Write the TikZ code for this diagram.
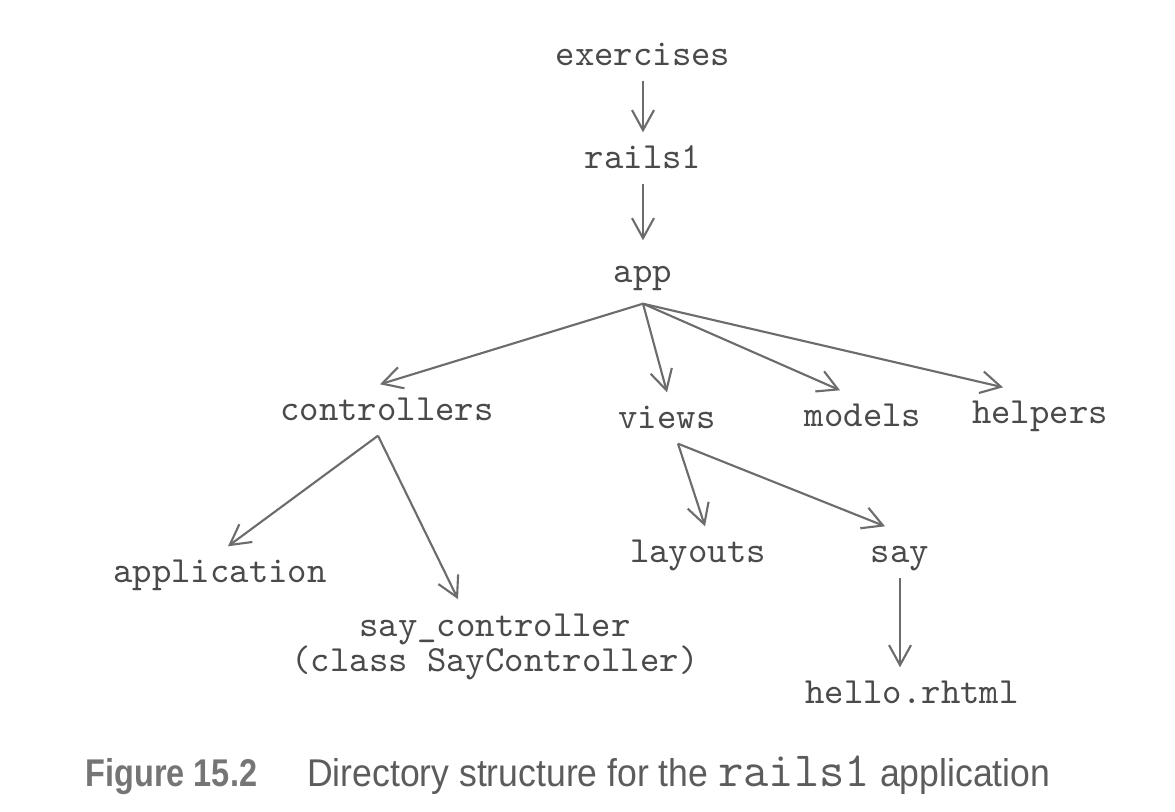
\documentclass[tikz,border=0pt]{standalone}
\usepackage{fontspec}
\setmainfont{Liberation Sans}
\newfontfamily\capfont[FakeStretch=0.92]{Liberation Sans}
\newfontfamily\capboldfont[FakeStretch=0.84]{Liberation Sans}
\usetikzlibrary{arrows.meta}
\definecolor{inkgray}{HTML}{4A4A4A}
\definecolor{linegray}{HTML}{6C6C6C}
\definecolor{capgray}{HTML}{5C5C5C}

\begin{document}
\begin{tikzpicture}[
  dir/.style={font=\fontsize{10.5}{12}\selectfont\ttfamily, text=inkgray, inner sep=0pt,
              minimum height=0.5cm, text height=1.5ex, text depth=.35ex},
  dirtwo/.style={font=\fontsize{10.5}{10}\selectfont\ttfamily, text=inkgray, inner xsep=0pt,
                 inner ysep=4pt, align=center},
  arr/.style={-{Straight Barb[length=2mm, width=2.2mm]}, line width=0.6pt, linegray},
]
\useasboundingbox[fill=white] (0,0) rectangle (11.75,-8.12);

% top chain
\node[dir] (exercises) at (6.43,-0.55) {exercises};
\node[dir] (rails) at (6.43,-1.58) {rails1};
\node[dir, minimum height=0.62cm] (app) at (6.43,-2.72) {app};
\draw[arr] (exercises.south) -- (rails.north);
\draw[arr] (rails.south) -- (app.north);

% app subfolders
\node[dir] (controllers) at (3.87,-4.10) {controllers};
\node[dir] (views) at (6.67,-4.18) {views};
\node[dir] (models) at (8.63,-4.16) {models};
\node[dir] (helpers) at (10.40,-4.13) {helpers};
\draw[arr] (app.south) -- ([xshift=-0.07cm]controllers.north);
\draw[arr] (app.south) -- (views.north);
\draw[arr] (app.south) -- ([xshift=-0.23cm]models.north);
\draw[arr] (app.south) -- ([xshift=-0.37cm]helpers.north);

% controllers
\node[dir] (application) at (2.20,-5.72) {application};
\node[dirtwo] (saycontroller) at (4.95,-6.47) {say\_controller\\(class SayController)};
\draw[arr] ([xshift=-0.09cm]controllers.south) -- ([xshift=0.08cm]application.north);
\draw[arr] ([xshift=-0.09cm]controllers.south) -- ([xshift=-0.37cm]saycontroller.north);

% views
\node[dir] (layouts) at (6.98,-5.52) {layouts};
\node[dir] (say) at (9.00,-5.52) {say};
\node[dir] (hello) at (9.12,-6.93) {hello.rhtml};
\draw[arr] ([xshift=0.11cm]views.south) -- ([xshift=0.07cm]layouts.north);
\draw[arr] ([xshift=0.11cm]views.south) -- ([xshift=-0.15cm]say.north);
\draw[arr] (say.south) -- (say.south |- hello.north);

% caption
\node[anchor=base west, inner sep=0pt, text=capgray] (caption) at (0.85,-7.87)
  {{\capboldfont\fontsize{11}{13}\selectfont\bfseries\color{capgray!85}Figure 15.2}\hspace{0.5cm}%
   {\capfont\fontsize{11}{13}\selectfont Directory structure for the
   {\fontsize{14}{13}\selectfont\ttfamily rails1} application}};
\end{tikzpicture}
\end{document}
